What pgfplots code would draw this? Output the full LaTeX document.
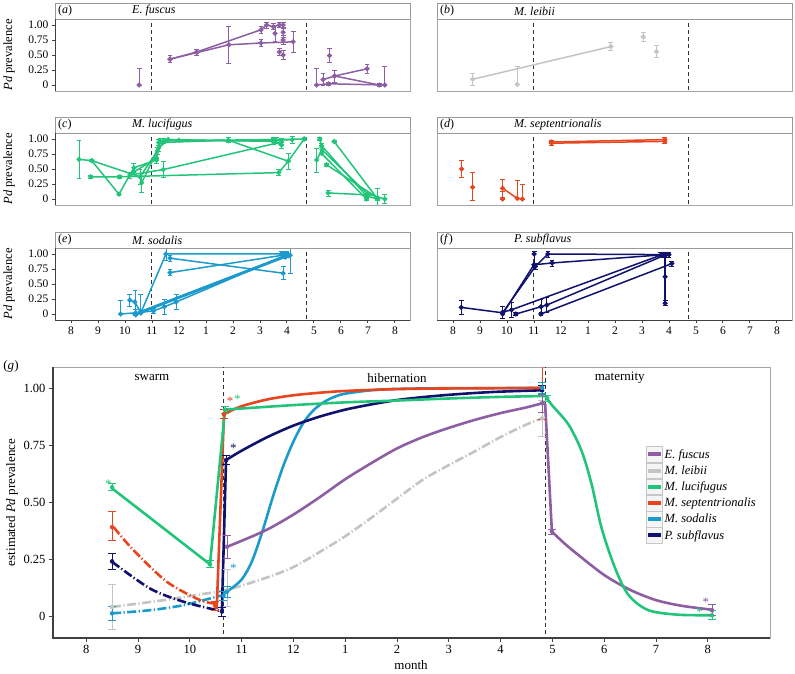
\documentclass[border=0pt]{standalone}
\usepackage{fontspec}
\setmainfont{Liberation Serif}
\usepackage{pgfplots}
\pgfplotsset{compat=1.18}

\definecolor{cfus}{HTML}{8E5EA2}
\definecolor{cleib}{HTML}{C4C4C4}
\definecolor{cluc}{HTML}{22C47A}
\definecolor{csep}{HTML}{E8441E}
\definecolor{csod}{HTML}{1C9ACC}
\definecolor{csub}{HTML}{11116E}

\pgfplotsset{
  panel/.style={scale only axis, width=355pt, height=72pt, anchor=south west,
    xmin=7.41, xmax=20.56, ymin=-0.1, ymax=1.1,
    axis line style={black!35, line width=0.8pt},
    tick align=outside, major tick length=3pt, tick pos=left,
    tick style={black!75, line width=0.8pt},
    xtick=\empty, ytick=\empty,
    tick label style={font=\fontsize{11.5}{12}\selectfont},
    clip mode=individual},
  ylab/.style={ytick={0,0.25,0.5,0.75,1}, yticklabels={0,0.25,0.50,0.75,1.00}},
  xlab/.style={xtick={8,...,20}, xticklabels={8,9,10,11,12,1,2,3,4,5,6,7,8}},
  ser/.style={color=#1, line width=1.5pt, mark=*, mark size=1.7pt,
    error bars/y dir=both, error bars/y explicit,
    error bars/error bar style={line width=0.8pt},
    error bars/error mark options={rotate=90, line width=0.8pt, mark size=2.4pt}},
  vdash/.style={black!80, line width=0.9pt, dash pattern=on 4pt off 3pt, forget plot},
  gl/.style={color=#1, line width=2.6pt, no marks, forget plot},
  gdd/.style={gl=#1, dash pattern=on 9pt off 2.5pt on 1.2pt off 2.5pt},
  geb/.style={color=#1, only marks, mark=none, forget plot,
    error bars/y dir=both, error bars/y explicit,
    error bars/error bar style={line width=0.9pt, solid},
    error bars/error mark options={rotate=90, line width=0.9pt, mark size=4pt}},
}
\tikzset{ast/.style={text=#1, inner sep=0pt, font=\fontsize{13}{14}\selectfont}}

\newcommand{\strip}[3]{%
  \draw[black!40, fill=white, line width=0.8pt] (#1.north west) rectangle ([yshift=16pt]#1.north east);
  \node[anchor=west, inner sep=0pt, font=\fontsize{12}{13}\selectfont] at ([xshift=3pt,yshift=8pt]#1.north west) {(\textit{#2})};
  \node[anchor=west, inner sep=0pt, font=\fontsize{12}{13}\selectfont\itshape] at ([xshift=77pt,yshift=8pt]#1.north west) {#3};}

\begin{document}
\begin{tikzpicture}
\useasboundingbox (0pt,0pt) rectangle (795pt,673pt);

% (a) E. fuscus
\begin{axis}[panel, ylab, name=pa, at={(55pt,582pt)}]
\addplot[vdash] coordinates {(11,-0.2) (11,1.2)};
\addplot[vdash] coordinates {(16.73,-0.2) (16.73,1.2)};
\addplot[ser=cfus] coordinates {(11.67,0.43) +- (0,0.06) (12.66,0.55) +- (0,0.05) (15.04,0.92) +- (0,0.06) (15.25,1.0) +- (0,0.05) (15.5,0.97) +- (0,0.05) (15.72,1.0) +- (0,0.04) (15.86,1.0) +- (0,0.05)};
\addplot[ser=cfus] coordinates {(11.67,0.43) (12.66,0.54) (13.85,0.67) +- (0,0.31) (15.04,0.70) +- (0,0.06) (16.23,0.72) +- (0,0.18)};
\addplot[ser=cfus, only marks] coordinates {(10.53,0.0) += (0,0.27) -= (0,0) (15.56,0.86) +- (0,0.14) (15.72,0.55) +- (0,0.06) (15.86,0.50) +- (0,0.08) (15.86,0.75) +- (0,0.08) (15.86,0.88) +- (0,0.08) (17.58,0.49) +- (0,0.12)};
\addplot[ser=cfus] coordinates {(17.1,0.0) += (0,0.27) -= (0,0) (17.55,0.02) +- (0,0.03) (19.63,0.0) += (0,0.31) -= (0,0)};
\addplot[ser=cfus] coordinates {(17.34,0.09) +- (0,0.1) (17.77,0.15) +- (0,0.1) (18.97,0.27) +- (0,0.08)};
\addplot[ser=cfus] coordinates {(17.77,0.15) (19.42,0.0) +- (0,0.02)};
\end{axis}
\strip{pa}{a}{E. fuscus}
\draw[black!75, line width=0.9pt] (pa.north west) -- (pa.south west);

% (b) M. leibii
\begin{axis}[panel, name=pb, at={(437pt,582pt)}]
\addplot[vdash] coordinates {(11,-0.2) (11,1.2)};
\addplot[vdash] coordinates {(16.73,-0.2) (16.73,1.2)};
\addplot[ser=cleib] coordinates {(8.73,0.095) +- (0,0.1) (13.85,0.64) +- (0,0.07)};
\addplot[ser=cleib, only marks] coordinates {(10.38,0.01) += (0,0.3) -= (0,0.0) (15.05,0.8) +- (0,0.07) (15.54,0.555) +- (0,0.1)};
\end{axis}
\strip{pb}{b}{M. leibii}

% (c) M. lucifugus
\begin{axis}[panel, ylab, name=pc, at={(55pt,468pt)}]
\addplot[vdash] coordinates {(11,-0.2) (11,1.2)};
\addplot[vdash] coordinates {(16.73,-0.2) (16.73,1.2)};
\addplot[ser=cluc] coordinates {(8.30,0.66) +- (0,0.31) (8.77,0.64) +- (0,0.02) (9.78,0.08) +- (0,0.02) (10.33,0.52) +- (0,0.08) (11.17,0.65) +- (0,0.05) (11.25,0.94) +- (0,0.05) (13.83,0.98) +- (0,0.04) (16.05,0.63) +- (0,0.13)};
\addplot[ser=cluc] coordinates {(8.77,0.64) (10.56,0.37) +- (0,0.12) (11.2,0.8) +- (0,0.06) (11.44,0.97) +- (0,0.04) (15.49,0.99) +- (0,0.03) (16.64,1.0) +- (0,0.03)};
\addplot[ser=cluc] coordinates {(8.73,0.37) +- (0,0.02) (9.81,0.37) +- (0,0.03) (15.70,0.44) +- (0,0.05) (16.05,0.63) (16.64,1.0)};
\addplot[ser=cluc] coordinates {(10.18,0.40) +- (0,0.05) (11.42,0.49) +- (0,0.13) (15.8,0.95) +- (0,0.06)};
\addplot[ser=cluc] coordinates {(10.33,0.45) (11.17,0.68) (11.3,0.97) +- (0,0.04) (12.0,0.98) (13.83,0.97) (15.6,0.98) +- (0,0.05) (16.2,0.99) +- (0,0.06)};
\addplot[ser=cluc] coordinates {(10.62,0.27) +- (0,0.16) (11.25,0.85) +- (0,0.05) (11.6,0.99) (15.49,0.96) +- (0,0.05) (15.8,0.9) +- (0,0.05)};
\addplot[ser=cluc] coordinates {(17.22,1.0) +- (0,0.02) (17.28,0.89) +- (0,0.03) (18.95,0.05) +- (0,0.04) (19.36,0.0) +- (0,0.03)};
\addplot[ser=cluc] coordinates {(17.1,0.65) +- (0,0.2) (17.3,0.82) +- (0,0.06) (19.0,0.08) (19.63,0.0) +- (0,0.08)};
\addplot[ser=cluc] coordinates {(17.47,0.57) +- (0,0.03) (19.36,0.02) +- (0,0.15)};
\addplot[ser=cluc] coordinates {(17.75,0.96) +- (0,0.02) (19.36,0.0)};
\addplot[ser=cluc] coordinates {(17.28,0.76) (18.95,0.0) +- (0,0.03)};
\addplot[ser=cluc] coordinates {(17.53,0.10) +- (0,0.05) (18.95,0.07)};
\end{axis}
\strip{pc}{c}{M. lucifugus}
\draw[black!75, line width=0.9pt] (pc.north west) -- (pc.south west);

% (d) M. septentrionalis
\begin{axis}[panel, name=pd, at={(437pt,468pt)}]
\addplot[vdash] coordinates {(11,-0.2) (11,1.2)};
\addplot[vdash] coordinates {(16.73,-0.2) (16.73,1.2)};
\addplot[ser=csep, only marks] coordinates {(8.32,0.50) +- (0,0.14) (8.73,0.195) += (0,0.24) -= (0,0.22) (9.84,0.0) += (0,0.12) -= (0,0)};
\addplot[ser=csep] coordinates {(9.84,0.18) +- (0,0.15) (10.38,0.01) += (0,0.3) -= (0,0) (10.57,0.0) += (0,0.24) -= (0,0)};
\addplot[ser=csep] coordinates {(11.65,0.95) +- (0,0.03) (15.85,0.99) +- (0,0.03)};
\addplot[ser=csep] coordinates {(11.65,0.93) +- (0,0.03) (15.85,0.96) +- (0,0.03)};
\end{axis}
\strip{pd}{d}{M. septentrionalis}

% (e) M. sodalis
\begin{axis}[panel, ylab, xlab, name=pe, at={(55pt,353pt)}]
\addplot[vdash] coordinates {(11,-0.2) (11,1.2)};
\addplot[vdash] coordinates {(16.73,-0.2) (16.73,1.2)};
\addplot[ser=csod, line width=2.6pt] coordinates {(10.4,0.0) (16.05,0.98)};
\addplot[ser=csod, line width=2.6pt] coordinates {(10.59,0.03) (15.95,0.96)};
\addplot[ser=csod] coordinates {(9.84,0.0) += (0,0.23) -= (0,0) (10.4,0.02) +- (0,0.05) (11.05,0.05) +- (0,0.04) (11.46,0.12) +- (0,0.12) (11.9,0.2) +- (0,0.13) (15.9,0.97) +- (0,0.05)};
\addplot[ser=csod] coordinates {(10.18,0.23) +- (0,0.1) (10.37,0.2) +- (0,0.2) (10.59,0.02) += (0,0.3) -= (0,0) (11.52,1.0) +- (0,0.1) (15.8,1.0) +- (0,0.05)};
\addplot[ser=csod] coordinates {(11.67,0.93) +- (0,0.05) (15.86,0.68) +- (0,0.11)};
\addplot[ser=csod] coordinates {(11.67,0.69) +- (0,0.05) (16.0,0.99) +- (0,0.05)};
\addplot[ser=csod, only marks] coordinates {(16.12,0.98) +- (0,0.3)};
\end{axis}
\strip{pe}{e}{M. sodalis}
\draw[black!75, line width=0.9pt] (pe.north west) -- (pe.south west) -- (pe.south east);

% (f) P. subflavus
\begin{axis}[panel, xlab, name=pf, at={(437pt,353pt)}]
\addplot[vdash] coordinates {(11,-0.2) (11,1.2)};
\addplot[vdash] coordinates {(16.73,-0.2) (16.73,1.2)};
\addplot[ser=csub] coordinates {(8.31,0.11) +- (0,0.12) (9.84,0.02) +- (0,0.1) (11.05,0.79) +- (0,0.05) (11.52,1.0) +- (0,0.05) (15.8,0.99) +- (0,0.04)};
\addplot[ser=csub] coordinates {(9.84,0.0) (11.0,0.82) (11.67,0.85) +- (0,0.05) (15.86,0.99) +- (0,0.04)};
\addplot[ser=csub] coordinates {(9.84,0.03) (10.17,0.07) +- (0,0.13) (15.7,0.98) +- (0,0.04)};
\addplot[ser=csub] coordinates {(10.33,0.0) +- (0,0.02) (11.48,0.15) +- (0,0.12) (15.9,0.99) +- (0,0.04)};
\addplot[ser=csub] coordinates {(11.26,0.0) +- (0,0.02) (16.11,0.84) +- (0,0.04)};
\addplot[ser=csub] coordinates {(15.86,0.99) (15.86,0.62) (15.86,0.18) +- (0,0.04)};
\addplot[ser=csub, only marks] coordinates {(11.01,1.0) += (0,0.05) -= (0,0.2) (11.26,0.12) +- (0,0.12) (16.0,0.99) +- (0,0.04)};
\end{axis}
\strip{pf}{f}{P. subflavus}
\draw[black!75, line width=0.9pt] (pf.south west) -- (pf.south east);

\node[rotate=90, font=\fontsize{12.5}{13}\selectfont] at (9pt,618pt) {\textit{Pd} prevalence};
\node[rotate=90, font=\fontsize{12.5}{13}\selectfont] at (9pt,504pt) {\textit{Pd} prevalence};
\node[rotate=90, font=\fontsize{12.5}{13}\selectfont] at (9pt,389pt) {\textit{Pd} prevalence};

% (g) estimated prevalence
\begin{axis}[name=g, at={(53pt,35pt)}, anchor=south west, scale only axis,
  width=717pt, height=271pt,
  xmin=7.36, xmax=21.2, ymin=-0.096, ymax=1.092,
  axis line style={black!35, line width=0.8pt},
  tick align=outside, major tick length=4pt, tick pos=left,
  tick style={black!75, line width=0.9pt},
  xtick={8,...,20}, xticklabels={8,9,10,11,12,1,2,3,4,5,6,7,8},
  ytick={0,0.25,0.5,0.75,1}, yticklabels={0,0.25,0.50,0.75,1.00},
  tick label style={font=\fontsize{12.5}{13}\selectfont},
  legend style={at={(0.827,0.708)}, anchor=north west, draw=none, fill=white,
    inner sep=0pt, row sep=0pt, cells={anchor=west},
    font=\fontsize{12.5}{13}\selectfont\itshape},
  legend image code/.code={
    \draw[black!22, fill=black!4, line width=0.6pt] (0pt,-7.8pt) rectangle (15.5pt,7.8pt);
    \draw[#1, line width=4pt, solid] (1.5pt,0pt) -- (14pt,0pt);},
]
\addplot[vdash] coordinates {(10.65,-0.2) (10.65,1.2)};
\addplot[vdash] coordinates {(16.86,-0.2) (16.86,1.2)};
% M. leibii
\addplot[gdd=cleib, smooth] coordinates {(8.5,0.04) (9.5,0.07) (10.2,0.095) (10.72,0.115) (11.5,0.17) (12.0,0.215) (12.5,0.28) (13.0,0.35) (13.5,0.43) (14.0,0.515) (14.5,0.598) (15.0,0.662) (15.5,0.722) (16.0,0.785) (16.5,0.84) (16.8,0.867)};
% M. sodalis
\addplot[gdd=csod, smooth] coordinates {(8.5,0.012) (9.24,0.026) (9.88,0.048) (10.52,0.085) (10.65,0.092)};
\addplot[gl=csod, smooth] coordinates {(10.65,0.097) (10.72,0.107) (11.0,0.16) (11.2,0.24) (11.4,0.37) (11.6,0.52) (11.8,0.655) (12.0,0.765) (12.2,0.85) (12.4,0.905) (12.6,0.94) (12.8,0.962) (13.0,0.975) (13.5,0.99) (14.0,0.996) (15.0,0.999) (16.8,1.0)};
% E. fuscus
\addplot[gl=cfus, smooth] coordinates {(10.72,0.304) (11.0,0.33) (11.5,0.38) (12.0,0.445) (12.5,0.52) (13.0,0.6) (13.5,0.67) (14.0,0.735) (14.5,0.785) (15.0,0.825) (15.5,0.86) (16.0,0.89) (16.5,0.915) (16.8,0.933)};
\addplot[gl=cfus] coordinates {(16.8,0.933) (16.86,0.93) (16.99,0.37)};
\addplot[gl=cfus, smooth] coordinates {(16.99,0.37) (17.25,0.315) (17.5,0.268) (18.0,0.18) (18.5,0.115) (19.0,0.07) (19.5,0.045) (20.08,0.028)};
% P. subflavus
\addplot[gdd=csub, smooth] coordinates {(8.5,0.238) (9.24,0.12) (9.88,0.063) (10.52,0.026) (10.62,0.02)};
\addplot[gl=csub] coordinates {(10.62,0.02) (10.7,0.684)};
\addplot[gl=csub, smooth] coordinates {(10.7,0.684) (11.0,0.725) (11.5,0.785) (12.0,0.835) (12.5,0.874) (13.0,0.905) (13.5,0.928) (14.0,0.947) (14.5,0.96) (15.0,0.97) (15.5,0.978) (16.0,0.984) (16.8,0.99)};
% M. septentrionalis
\addplot[gdd=csep, smooth] coordinates {(8.53,0.39) (8.91,0.29) (9.56,0.15) (10.2,0.07) (10.49,0.055)};
\addplot[gl=csep] coordinates {(10.52,0.03) (10.66,0.885)};
\addplot[gl=csep, smooth] coordinates {(10.66,0.885) (11.0,0.92) (11.5,0.95) (12.0,0.968) (12.5,0.979) (13.0,0.987) (14.0,0.995) (15.0,0.998) (16.8,1.0)};
% M. lucifugus
\addplot[gl=cluc] coordinates {(8.5,0.56) (10.39,0.227) (10.68,0.905)};
\addplot[gl=cluc, smooth] coordinates {(10.68,0.905) (11,0.91) (12,0.925) (13,0.937) (14,0.945) (15,0.954) (16,0.961) (16.86,0.965)};
\addplot[gl=cluc, smooth] coordinates {(16.86,0.965) (16.99,0.925) (17.31,0.84) (17.57,0.72) (17.76,0.575) (17.95,0.385) (18.21,0.21) (18.47,0.092) (18.85,0.026) (19.43,0.006) (20.08,0.004)};
% error bars
\addplot[geb=cluc] coordinates {(8.5,0.565) +- (0,0.015) (10.39,0.227) +- (0,0.015) (10.68,0.905) +- (0,0.015) (16.9,0.955) +- (0,0.012) (20.08,0.004) +- (0,0.02)};
\addplot[geb=csep] coordinates {(8.5,0.39) += (0,0.07) -= (0,0.06) (10.49,0.045) +- (0,0.02) (10.66,0.885) +- (0,0.02) (16.8,1.0) += (0,0.3) -= (0,0.14)};
\addplot[geb=csub] coordinates {(8.5,0.24) +- (0,0.035) (10.62,0.02) +- (0,0.02) (10.7,0.684) +- (0,0.02) (16.8,0.99) +- (0,0.02)};
\addplot[geb=cleib] coordinates {(8.5,0.04) +- (0,0.1) (10.72,0.114) += (0,0.09) -= (0,0.07) (16.8,0.867) +- (0,0.08)};
\addplot[geb=csod] coordinates {(8.5,0.012) +- (0,0.03) (10.65,0.09) +- (0,0.02) (10.72,0.107) +- (0,0.025) (16.8,1.0) +- (0,0.025)};
\addplot[geb=cfus] coordinates {(10.72,0.304) +- (0,0.05) (16.8,0.933) +- (0,0.04) (16.99,0.37) +- (0,0.012) (20.08,0.026) +- (0,0.025)};
% asterisks and phase labels
\node[ast=cluc] at (axis cs:8.43,0.58) {*};
\node[ast=csep] at (axis cs:10.78,0.94) {*};
\node[ast=cluc] at (axis cs:10.92,0.952) {*};
\node[ast=csub] at (axis cs:10.84,0.735) {*};
\node[ast=csod] at (axis cs:10.84,0.21) {*};
\node[ast=cfus] at (axis cs:19.96,0.062) {*};
\node[ast=cluc] at (axis cs:19.84,0.016) {*};
\node[font=\fontsize{13}{14}\selectfont] at (axis cs:9.27,1.045) {swarm};
\node[font=\fontsize{13}{14}\selectfont] at (axis cs:14.0,1.045) {hibernation};
\node[font=\fontsize{13}{14}\selectfont] at (axis cs:18.3,1.045) {maternity};
% legend
\addlegendimage{cfus}\addlegendentry{E. fuscus}
\addlegendimage{cleib}\addlegendentry{M. leibii}
\addlegendimage{cluc}\addlegendentry{M. lucifugus}
\addlegendimage{csep}\addlegendentry{M. septentrionalis}
\addlegendimage{csod}\addlegendentry{M. sodalis}
\addlegendimage{csub}\addlegendentry{P. subflavus}
\end{axis}
\draw[black!75, line width=1.1pt] (g.north west) -- (g.south west) -- (g.south east);

\node[rotate=90, font=\fontsize{13}{14}\selectfont] at (12pt,170.5pt) {estimated \textit{Pd} prevalence};
\node[font=\fontsize{13}{14}\selectfont] at (411pt,8pt) {month};
\node[font=\fontsize{13}{14}\selectfont] at (11pt,307pt) {(\textit{g})};
\end{tikzpicture}
\end{document}
